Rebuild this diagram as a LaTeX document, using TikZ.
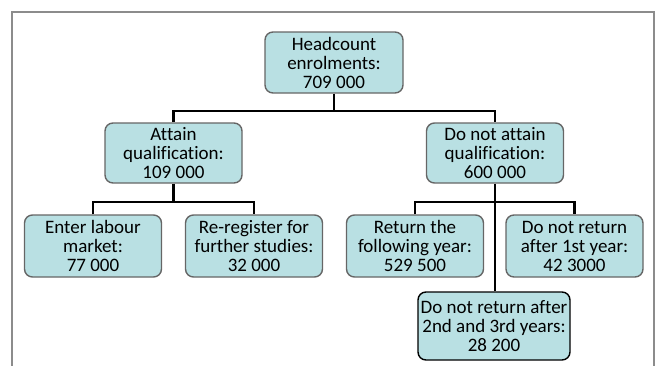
\documentclass[tikz,border=0pt]{standalone}
\usepackage{fontspec}
\setmainfont{Carlito}[Ligatures=NoCommon]
\definecolor{boxfill}{HTML}{B9E0E3}
\definecolor{boxline}{HTML}{666666}
\definecolor{framecol}{HTML}{8C8C8C}
\tikzset{
  box/.style={draw=boxline, line width=1.4pt, fill=boxfill, rounded corners=8pt,
    align=center, inner sep=0pt, minimum width=137pt, minimum height=60pt,
    font=\fontsize{19}{19}\selectfont},
  darkbox/.style={box, draw=black, minimum width=152pt, minimum height=68pt},
  link/.style={draw=black, line width=2.6pt},
}
\begin{document}
\begin{tikzpicture}[x=1pt,y=-1pt]
\useasboundingbox (0,0) rectangle (657,365);
\draw[framecol, line width=1.5pt] (12,366) -- (12,12) -- (654,12) -- (654,366);

\node[box, minimum width=138pt, minimum height=61pt] (root) at (334,62.5) {Headcount\\enrolments:\\709 000};
\node[box] (attain) at (173.5,153) {Attain\\qualification:\\109 000};
\node[box] (notattain) at (495,153) {Do not attain\\qualification:\\600 000};
\node[box, minimum height=62pt] (enter) at (93,246) {Enter labour\\market:\\77 000};
\node[box, minimum height=62pt] (rereg) at (254,246) {Re-register for\\further studies:\\32 000};
\node[box, minimum height=62pt] (ret) at (415,246) {Return the\\following year:\\529 500};
\node[box, minimum height=62pt] (noret) at (574.5,246) {Do not return\\after 1st year:\\42 3000};
\node[darkbox] (noret2) at (494,326) {Do not return after\\2nd and 3rd years:\\28 200};

\coordinate (j1) at (334,111);
\coordinate (j2) at (173.5,202);
\coordinate (j3) at (495,202);

\draw[link] (root.south) -- (j1);
\draw[link] (attain.north) |- (j1) -| (notattain.north);
\draw[link] (attain.south) -- (j2);
\draw[link] (enter.north) |- (j2) -| (rereg.north);
\draw[link] (notattain.south) -- (noret2.north -| notattain.south);
\draw[link] (ret.north) |- (j3) -| (noret.north);
\end{tikzpicture}
\end{document}
